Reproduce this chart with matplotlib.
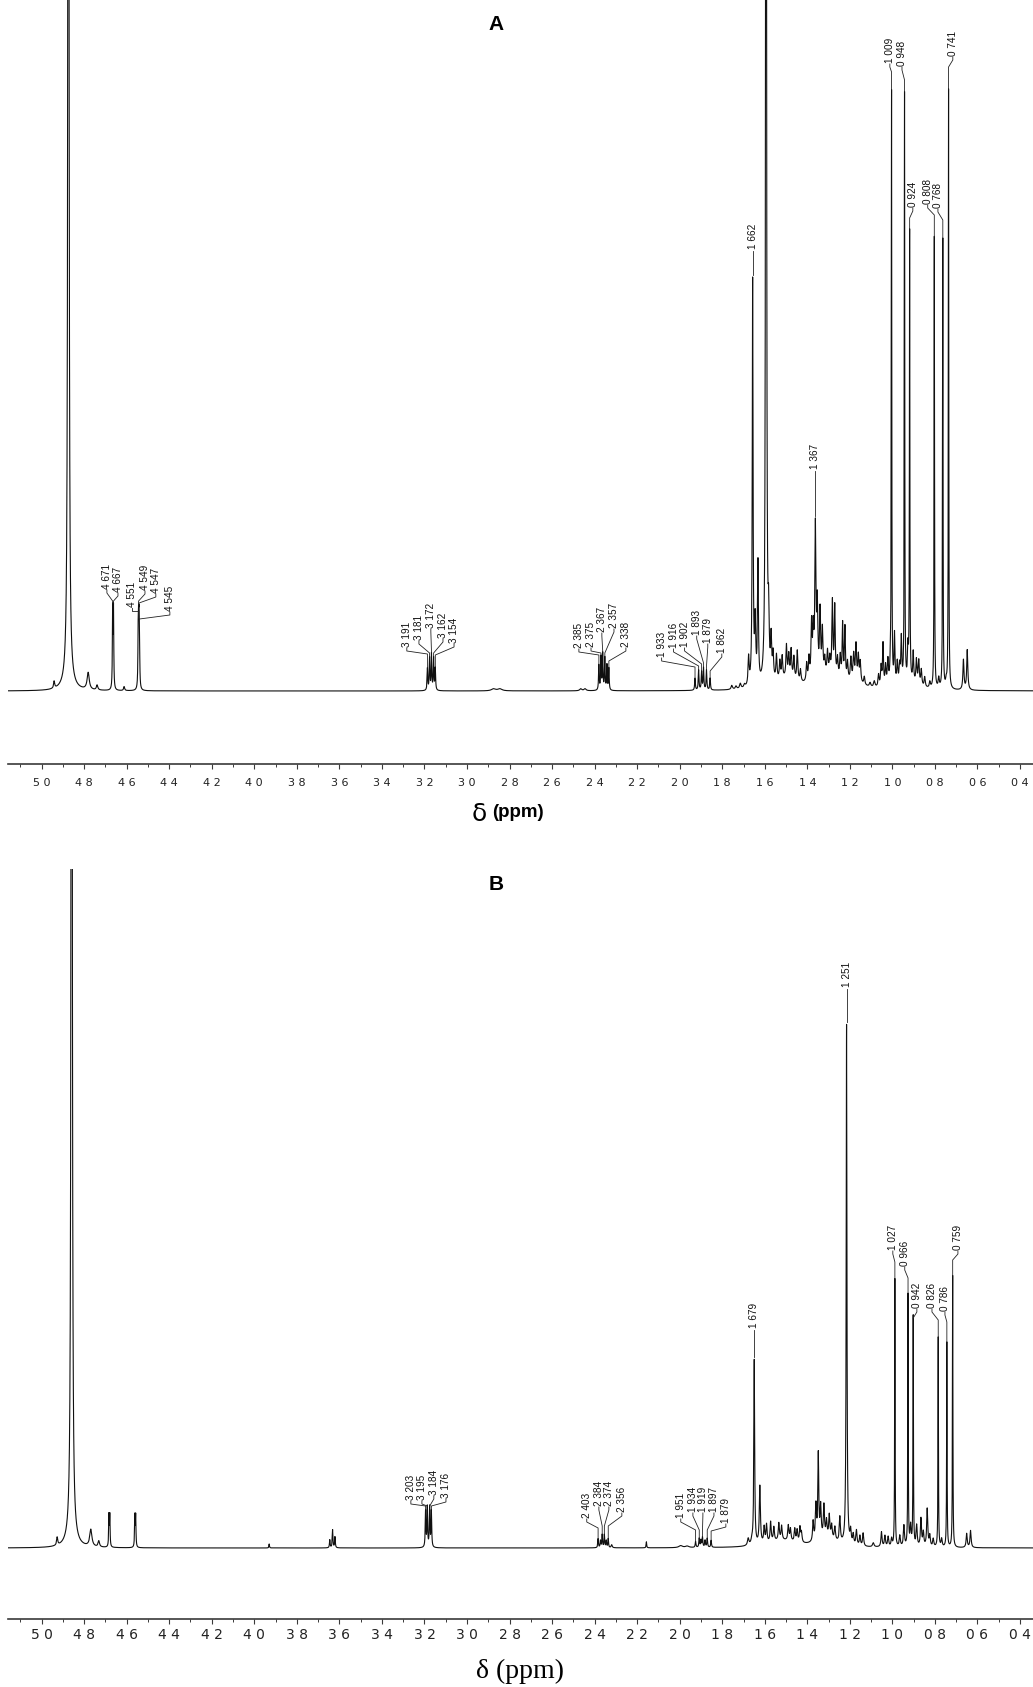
import numpy as np
import matplotlib
matplotlib.use("Agg")
import matplotlib.pyplot as plt
from matplotlib import font_manager
from matplotlib.ticker import MultipleLocator, FuncFormatter

W, H = 1033, 1687

# ---------------- spectrum A : lines (shift ppm, height, half width ppm)
a_shift = [4.946, 4.879, 4.879, 4.786, 4.744, 4.671, 4.667, 4.617, 4.551, 4.549, 4.547, 4.545,
           3.191, 3.181, 3.172, 3.162, 3.154,
           2.88, 2.85, 2.47, 2.45,
           2.385, 2.375, 2.367, 2.357, 2.347, 2.338,
           1.933, 1.916, 1.902, 1.893, 1.879, 1.862, 1.76, 1.74, 1.72, 1.70,
           1.681, 1.662, 1.650, 1.637, 1.599, 1.587, 1.575, 1.566, 1.550, 1.534, 1.523, 1.503,
           1.492, 1.481, 1.468, 1.452, 1.437, 1.50,
           1.408, 1.397, 1.385, 1.377, 1.367, 1.358, 1.345, 1.334, 1.323, 1.310, 1.299, 1.287,
           1.276, 1.263, 1.250, 1.239, 1.228, 1.216, 1.200, 1.187, 1.176, 1.165, 1.156, 1.137,
           1.30, 1.18,
           1.110, 1.090, 1.070, 1.058, 1.049, 1.037, 1.026, 1.014, 1.009, 0.995, 0.982, 0.971,
           0.963, 0.948, 0.932, 0.924, 0.907, 0.892, 0.881, 0.869, 0.853, 0.829, 0.808, 0.787,
           0.768, 0.752, 0.741, 0.671, 0.653, 0.92]
a_height = [7, 2500, 12, 17, 5, 78, 78, 4, 47, 47, 47, 47,
            22, 32, 36, 32, 22,
            2, 2, 2, 2,
            25, 33, 36, 32, 25, 22,
            12, 20, 18, 22, 20, 12, 4, 3, 5, 3,
            28, 405, 60, 120, 2800, 55, 40, 25, 25, 18, 22, 32,
            22, 28, 22, 30, 12, 10,
            18, 22, 55, 45, 150, 70, 65, 45, 15, 22, 15, 72,
            68, 18, 22, 55, 52, 18, 22, 25, 35, 25, 20, 8,
            14, 6,
            4, 6, 12, 20, 42, 20, 25, 20, 590, 50, 22, 18,
            45, 590, 32, 450, 30, 24, 24, 16, 10, 6, 452, 10,
            450, 6, 600, 30, 40, 6]
a_width = [.003, .002, .02, .006, .004, .0015, .0015, .003, .0015, .0015, .0015, .0015,
           .0018, .0018, .0018, .0018, .0018,
           .012, .012, .006, .006,
           .0018, .0018, .0018, .0018, .0018, .0018,
           .002, .002, .002, .002, .002, .002, .004, .004, .004, .004,
           .003, .0022, .003, .0025, .0015, .003, .003, .003, .003, .003, .003, .003,
           .003, .003, .003, .003, .003, .06,
           .003, .003, .003, .003, .003, .003, .003, .003, .003, .003, .003, .0025,
           .0025, .003, .003, .0025, .0025, .003, .003, .003, .003, .003, .003, .003,
           .06, .04,
           .004, .004, .003, .003, .0025, .003, .003, .003, .0012, .0025, .003, .003,
           .0025, .0012, .0025, .0012, .0025, .003, .003, .003, .003, .003, .0012, .003,
           .0012, .003, .0012, .003, .003, .05]
a_cal = (1.0, -0.005)   # drawn axis = scale * shift + offset

a_labels = [4.671, 4.667, 4.551, 4.549, 4.547, 4.545, 3.191, 3.181, 3.172, 3.162, 3.154,
            2.385, 2.375, 2.367, 2.357, 2.338, 1.933, 1.916, 1.902, 1.893, 1.879, 1.862,
            1.662, 1.367, 1.009, 0.948, 0.924, 0.808, 0.768, 0.741]

# ---------------- spectrum B
b_shift = [4.911, 4.844, 4.844, 4.755, 4.718, 4.671, 4.667, 4.551, 4.547, 3.928,
           3.647, 3.634, 3.623, 3.203, 3.195, 3.184, 3.176,
           2.403, 2.392, 2.384, 2.374, 2.365, 2.356, 2.340, 2.179, 2.02, 1.99,
           1.951, 1.934, 1.926, 1.919, 1.907, 1.897, 1.879, 1.707, 1.690,
           1.679, 1.653, 1.633, 1.622, 1.603, 1.588, 1.565, 1.552, 1.521, 1.511, 1.491, 1.480,
           1.467, 1.460, 1.55,
           1.406, 1.393, 1.382, 1.371, 1.356, 1.344, 1.331, 1.320, 1.305, 1.282, 1.34,
           1.251, 1.232, 1.220, 1.205, 1.189, 1.174, 1.127, 1.089, 1.073, 1.058, 1.042,
           1.027, 1.004, 0.985, 0.966, 0.954, 0.942, 0.926, 0.906, 0.895, 0.877, 0.865, 0.849,
           0.826, 0.810, 0.786, 0.759, 0.694, 0.676]
b_height = [8, 2500, 12, 17, 6, 31, 31, 31, 31, 4,
            8, 18, 11, 36, 40, 40, 36,
            9, 7, 13, 13, 7, 9, 3, 6, 2, 1.5,
            6, 9, 7, 10, 7, 9, 7, 7, 4,
            185, 58, 16, 18, 20, 14, 17, 14, 15, 12, 13, 12,
            15, 10, 7,
            20, 35, 85, 32, 32, 16, 22, 13, 13, 25, 9,
            520, 13, 10, 15, 10, 13, 4, 15, 11, 10, 8,
            268, 11, 21, 252, 20, 230, 21, 28, 14, 38, 11, 8,
            210, 8, 205, 272, 14, 17]
b_width = [.003, .002, .02, .006, .004, .0015, .0015, .0015, .0015, .0015,
           .0018, .0018, .0018, .0018, .0018, .0018, .0018,
           .0018, .0018, .0018, .0018, .0018, .0018, .003, .0015, .01, .01,
           .002, .002, .002, .002, .002, .002, .002, .004, .004,
           .0022, .003, .003, .003, .003, .003, .003, .003, .003, .003, .003, .003,
           .003, .003, .08,
           .003, .003, .0025, .003, .003, .003, .003, .003, .003, .003, .05,
           .002, .003, .003, .003, .003, .003, .004, .003, .003, .003, .003,
           .0012, .003, .003, .0012, .003, .0012, .003, .003, .003, .003, .003, .003,
           .0012, .003, .0012, .0012, .003, .003]
b_cal = (1.014, -0.053)

b_labels = [3.203, 3.195, 3.184, 3.176, 2.403, 2.384, 2.374, 2.356, 1.951, 1.934, 1.919,
            1.897, 1.879, 1.679, 1.251, 1.027, 0.966, 0.942, 0.826, 0.786, 0.759]

# ---------------- label layout (text x on the drawn axis, text foot and leader knee heights)
a_lab_x = [4.693, 4.641, 4.575, 4.514, 4.463, 4.397, 3.283, 3.226, 3.170, 3.113, 3.061,
           2.474, 2.417, 2.366, 2.309, 2.253, 2.085, 2.029, 1.977, 1.920, 1.868, 1.802,
           None, None, 1.012, 0.955, 0.904, 0.834, 0.786, 0.716]
a_lab_h = [102, 99, 84, 101, 98, 80, 44, 51, 63, 53, 48, 43, 44, 59, 63, 44,
           34, 43, 44, 56, 48, 38, 442, 222, 628, 625, 484, 487, 483, 635]
a_knee_h = [90, 90, 80, 90, 88, 72, 37, 38, 39, 38, 36, 36, 38, 40, 38, 30,
            24, 25, 27, 28, 25, 20, None, None, 619, 611, 473, 476, 471, 624]

b_lab_x = [3.264, 3.212, 3.156, 3.099, 2.437, 2.380, 2.333, 2.272, 1.995, 1.938, 1.891,
           1.839, 1.783, None, None, 0.998, 0.942, 0.885, 0.814, 0.753, 0.692]
b_lab_h = [48, 48, 53, 50, 30, 42, 42, 36, 30, 36, 36, 36, 25, 220, 561, 298, 282, 240, 240, 237, 298]
b_knee_h = [42, 42, 42, 42, 20, 22, 22, 22, 18, 18, 18, 18, 17, None, None, 286, 270, 230, 228, 226, 288]

X_LEFT, X_RIGHT = 5.158, 0.339

installed = {f.name for f in font_manager.fontManager.ttflist}
narrow = "Liberation Sans Narrow" if "Liberation Sans Narrow" in installed else "DejaVu Sans"


def spectrum(ppm, shifts, heights, widths, cal):
	scale, offset = cal
	out = np.zeros_like(ppm)
	for c, h, w in zip(shifts, heights, widths):
		c = scale * c + offset
		w = scale * w
		out += h * w ** 2 / ((ppm - c) ** 2 + w ** 2)
	return out


def ppm_label(v):
	return f"{v:.3f}".replace(".", " ")


def panel(fig, top_px, spine_px, base_px, shifts, heights, widths, cal,
	labels, lab_x, lab_h, knee_h, tick_family, tick_size, tick_pad):
	assert len(shifts) == len(heights) == len(widths)
	assert len(labels) == len(lab_x) == len(lab_h) == len(knee_h)
	ax = fig.add_axes([8 / W, 1 - spine_px / H, 1025 / W, (spine_px - top_px) / H])
	ppm = np.linspace(0.3, 5.2, 60000)
	y = spectrum(ppm, shifts, heights, widths, cal)
	ax.plot(ppm, y, color="#101010", lw=0.8)
	ax.set_xlim(X_LEFT, X_RIGHT)
	ax.set_ylim(-(spine_px - base_px), base_px - top_px)
	for s in ("top", "left", "right"):
		ax.spines[s].set_visible(False)
	ax.spines["bottom"].set_color("#3a3a3a")
	ax.spines["bottom"].set_linewidth(1.2)
	ax.set_yticks([])
	ax.xaxis.set_major_locator(MultipleLocator(0.2))
	ax.xaxis.set_minor_locator(MultipleLocator(0.1))
	ax.xaxis.set_major_formatter(FuncFormatter(lambda v, p: f"{v:.1f}".replace(".", " ")))
	ax.tick_params(axis="x", which="major", length=3.6, width=0.8, color="#3a3a3a",
		pad=tick_pad, labelsize=tick_size, labelcolor="#222222", labelfontfamily=tick_family)
	ax.tick_params(axis="x", which="minor", length=2.2, width=0.7, color="#3a3a3a")

	scale, offset = cal
	for v, tx, th, kh in zip(labels, lab_x, lab_h, knee_h):
		px = scale * v + offset
		top = np.interp(px, ppm, y)
		if tx is None:
			tx = px
			xs, ys = [px, px], [th - 2, top + 2]
		else:
			xs = [tx, tx, px, px]
			ys = [th - 1, th - 4, kh, min(kh, top)]
		ax.plot(xs, ys, color="#222222", lw=0.6)
		ax.text(tx, th, ppm_label(v), rotation=90, ha="center", va="bottom",
			fontsize=7.2, family="Liberation Sans", color="#111111")
	return ax


fig = plt.figure(figsize=(W / 100, H / 100), dpi=100, facecolor="white")

panel(fig, 0, 764, 691, a_shift, a_height, a_width, a_cal,
	a_labels, a_lab_x, a_lab_h, a_knee_h, "DejaVu Sans", 8, 6.8)
panel(fig, 869, 1619, 1548, b_shift, b_height, b_width, b_cal,
	b_labels, b_lab_x, b_lab_h, b_knee_h, narrow, 10, 3)

fig.text(496 / W, 1 - 24 / H, "A", ha="center", va="center", fontsize=15,
	fontweight="bold", family="Liberation Sans")
fig.text(496 / W, 1 - 884 / H, "B", ha="center", va="center", fontsize=15,
	fontweight="bold", family="Liberation Sans")

fig.text(479 / W, 1 - 814 / H, "δ", ha="center", va="center", fontsize=18,
	family="DejaVu Sans")
fig.text(492 / W, 1 - 812 / H, "(ppm)", ha="left", va="center", fontsize=13.5,
	fontweight="bold", family="Liberation Sans")
fig.text(520 / W, 1 - 1671 / H, "δ (ppm)", ha="center", va="center", fontsize=20,
	family="Liberation Serif")

fig.savefig("out.png", dpi=100, facecolor="white")
